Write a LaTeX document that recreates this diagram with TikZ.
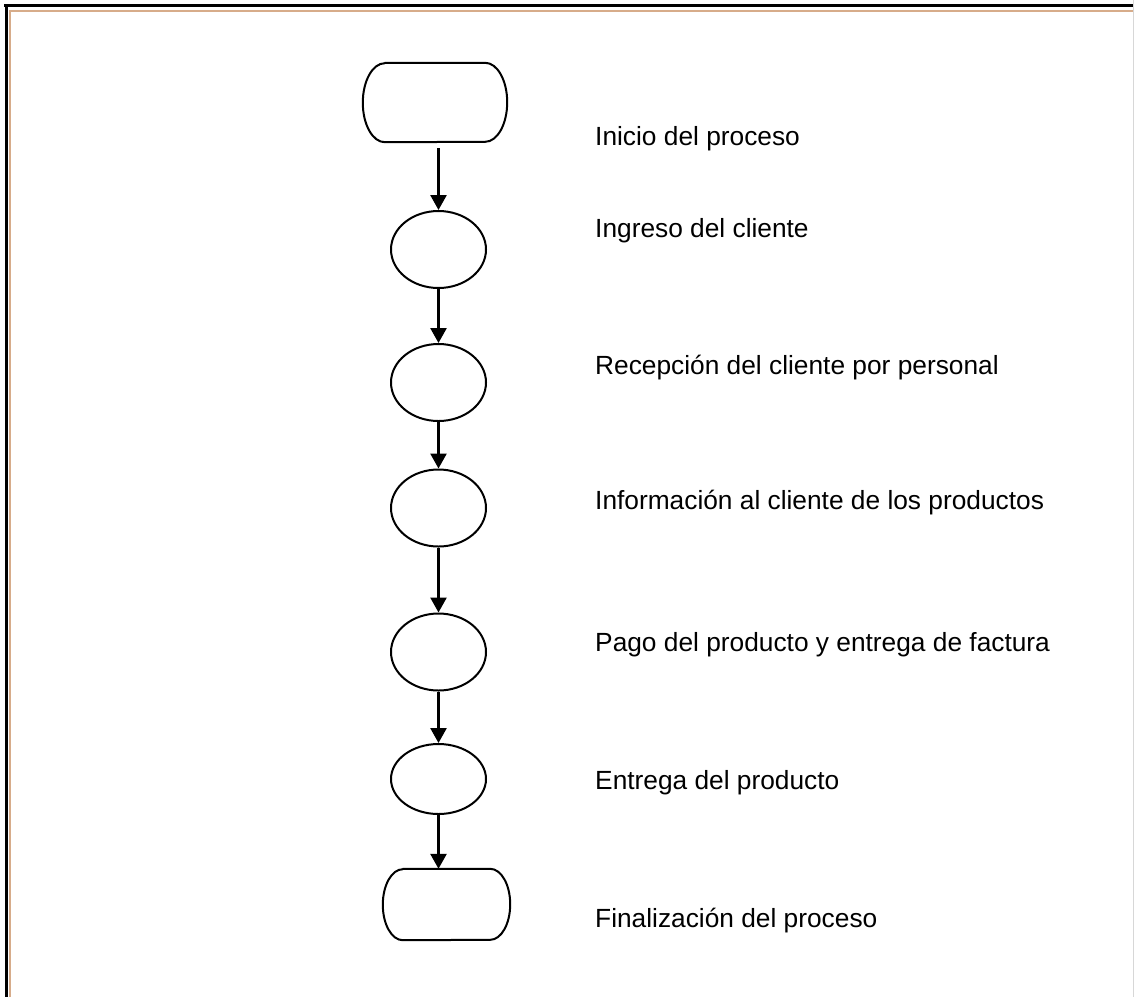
\documentclass[tikz,border=0pt]{standalone}
\usepackage{fontspec}
\setmainfont{Liberation Sans}
\usetikzlibrary{shapes.geometric,arrows.meta}
\definecolor{frametan}{RGB}{215,172,138}
\definecolor{framegray}{RGB}{215,215,215}
\tikzset{
  stepellipse/.style={draw, ellipse, line width=2pt, minimum width=95pt, minimum height=77pt, inner sep=0pt},
  termbox/.style={draw=none, rectangle, inner sep=0pt},
  termline/.style={line width=2pt, line join=round},
  flowarrow/.style={line width=2.6pt, -{Triangle[width=16pt,length=15pt]}},
  steplabel/.style={anchor=base west, inner sep=0pt, font=\fontsize{26.3}{30}\selectfont}
}
\begin{document}
\begin{tikzpicture}[x=1pt,y=1pt]
\useasboundingbox (0,0) rectangle (1134,-997);
% frame
\draw[line width=3pt] (4,-5.5) -- (1134,-5.5);
\draw[line width=3pt] (6.5,-4) -- (6.5,-997);
\draw[frametan, line width=2pt] (9,-11) -- (1134,-11);
\draw[frametan, line width=2pt] (10,-10) -- (10,-997);
\draw[framegray, line width=1pt] (1133.5,0) -- (1133.5,-997);
% terminators
\node[termbox, minimum width=144pt, minimum height=79pt] (s) at (435,-102.5) {};
\node[termbox, minimum width=127pt, minimum height=71pt] (f) at (446.5,-904.5) {};
\draw[termline] ([xshift=22pt]s.north west) -- ([xshift=-22pt]s.north east)
  arc[start angle=90, end angle=-90, x radius=22, y radius=39.5]
  -- ([xshift=22pt]s.south west)
  arc[start angle=270, end angle=90, x radius=22, y radius=39.5] -- cycle;
\draw[termline] ([xshift=20pt]f.north west) -- ([xshift=-20pt]f.north east)
  arc[start angle=90, end angle=-90, x radius=20, y radius=35.5]
  -- ([xshift=20pt]f.south west)
  arc[start angle=270, end angle=90, x radius=20, y radius=35.5] -- cycle;
% ellipses
\node[stepellipse] (e1) at (438.5,-249.5) {};
\node[stepellipse] (e2) at (438.5,-382.5) {};
\node[stepellipse] (e3) at (438.5,-508) {};
\node[stepellipse] (e4) at (438.5,-652) {};
\node[stepellipse, minimum height=70pt] (e5) at (438.5,-779) {};
% arrows
\draw[flowarrow] ([yshift=-6pt]s.south -| e1.north) -- (e1.north);
\draw[flowarrow] (e1.south) -- (e2.north);
\draw[flowarrow] (e2.south) -- (e3.north);
\draw[flowarrow] (e3.south) -- (e4.north);
\draw[flowarrow] (e4.south) -- (e5.north);
\draw[flowarrow] (e5.south) -- (f.north -| e5.south);
% labels
\node[steplabel] (l0) at (595,-145) {Inicio del proceso};
\node[steplabel] (l1) at (595,-237) {Ingreso del cliente};
\node[steplabel] (l2) at (595,-374) {Recepción del cliente por personal};
\node[steplabel] (l3) at (595,-509) {Información al cliente de los productos};
\node[steplabel] (l4) at (595,-651) {Pago del producto y entrega de factura};
\node[steplabel] (l5) at (595,-789) {Entrega del producto};
\node[steplabel] (l6) at (595,-927) {Finalización del proceso};
\end{tikzpicture}
\end{document}
